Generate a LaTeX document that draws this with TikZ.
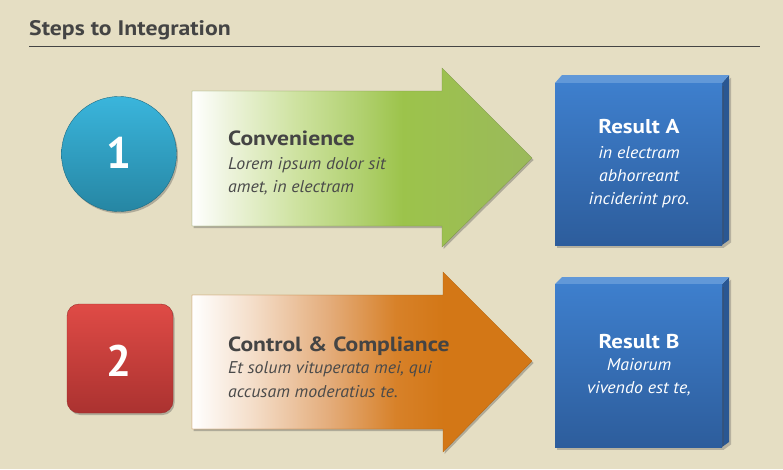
\documentclass[tikz,border=0pt]{standalone}
\usepackage{fontspec}
\setmainfont{PT Sans}
\newfontfamily\boldwide[FakeStretch=1.15]{PT Sans Bold}
\newfontfamily\titlewide[FakeStretch=1.13]{PT Sans Bold}
\newfontfamily\itwide[FakeStretch=1.05]{PT Sans Italic}
\usetikzlibrary{shadows}
\definecolor{bg}{HTML}{E5DEC3}
\definecolor{ink}{HTML}{444444}
\definecolor{itink}{HTML}{4A4A4A}
\definecolor{g1}{HTML}{EEF4DE}
\definecolor{g2}{HTML}{CFE3A2}
\definecolor{g3}{HTML}{B0D06E}
\definecolor{g4}{HTML}{9CC34B}
\definecolor{g5}{HTML}{9BB95B}
\definecolor{o1}{HTML}{F4DDC8}
\definecolor{o2}{HTML}{E4AD7C}
\definecolor{o3}{HTML}{D78129}
\definecolor{o4}{HTML}{D37716}
\definecolor{cyantop}{HTML}{3AB5DC}
\definecolor{cyanbot}{HTML}{2686A3}
\definecolor{redtop}{HTML}{DF4B46}
\definecolor{redbot}{HTML}{AB3230}
\definecolor{bluetop}{HTML}{3E7FCD}
\definecolor{bluebot}{HTML}{2D5D9C}
\definecolor{bluetopface}{HTML}{6198D8}
\definecolor{bluesideface}{HTML}{2A5792}
\pgfdeclarehorizontalshading{greenfade}{100bp}{color(0bp)=(white); color(25bp)=(white); color(30bp)=(g1); color(40bp)=(g2); color(50bp)=(g3); color(56bp)=(g4); color(75bp)=(g5); color(100bp)=(g5)}
\pgfdeclarehorizontalshading{orangefade}{100bp}{color(0bp)=(white); color(25bp)=(white); color(34bp)=(o1); color(45bp)=(o2); color(55bp)=(o3); color(62bp)=(o4); color(100bp)=(o4)}
\tikzset{
  shad/.style={drop shadow={shadow xshift=1.5pt, shadow yshift=-2pt, opacity=0.35, fill=black!70}},
  boxshad/.style={drop shadow={shadow xshift=2pt, shadow yshift=-2.5pt, opacity=0.3, fill=black!70}},
  headtext/.style={anchor=base west, inner sep=0pt, text=ink, font=\boldwide\fontsize{20.5}{24}\selectfont},
  bodytext/.style={anchor=base west, inner sep=0pt, text=itink, font=\itwide\fontsize{17}{22}\selectfont},
  reshead/.style={anchor=base, inner sep=0pt, text=white, font=\boldwide\fontsize{20}{24}\selectfont},
  resbody/.style={anchor=base, inner sep=0pt, text=white, font=\itwide\fontsize{17}{22}\selectfont},
  numtext/.style={inner sep=0pt, text=white, font=\bfseries\fontsize{44}{48}\selectfont},
}
\begin{document}
\begin{tikzpicture}[x=1pt,y=-1pt]
\fill[bg] (0,0) rectangle (783,469);
\useasboundingbox (0,0) rectangle (783,469);
% title
\node[anchor=base west, inner sep=0pt, text=ink, font=\titlewide\fontsize{21}{24}\selectfont] (title) at (29,35) {Steps to Integration};
\draw[ink, line width=1pt] (29,46) -- (760,46);
% step 1 circle
\shade[top color=cyantop, bottom color=cyanbot, draw=cyanbot!80!black, line width=0.4pt, shad] (119,154) circle (57.5);
\node[numtext] (n1) at (119,153) {1};
% step 2 square
\shade[top color=redtop, bottom color=redbot, draw=redbot!90!black, line width=0.4pt, rounded corners=12pt, shad] (67,304) rectangle (173,413);
\node[numtext] (n2) at (119,361) {2};
% arrow 1
\shade[shading=greenfade, draw=g5!80!black, line width=0.3pt, shad]
  (192,91) -- (442,91) -- (442,68) -- (532,158) -- (442,247) -- (442,226) -- (192,226) -- cycle;
\node[headtext] (h1) at (228,145) {Convenience};
\node[bodytext] (b1a) at (228,169) {Lorem ipsum dolor sit};
\node[bodytext] (b1b) at (228,192) {amet, in electram};
% arrow 2
\shade[shading=orangefade, draw=o4!85!black, line width=0.3pt, shad]
  (192,295) -- (443,295) -- (443,272) -- (532,361) -- (443,452) -- (443,429) -- (192,429) -- cycle;
\node[headtext] (h2) at (228,351) {Control \& Compliance};
\node[bodytext] (b2a) at (228,373) {Et solum vituperata mei, qui};
\node[bodytext] (b2b) at (228,397) {accusam moderatius te.};
% result A box
\fill[bluesideface, boxshad] (722,83) -- (729,75) -- (729,240) -- (722,245) -- cycle;
\fill[bluetopface] (555,83) -- (562,75) -- (729,75) -- (722,83) -- cycle;
\shade[top color=bluetop, bottom color=bluebot, boxshad] (555,83) rectangle (722,245);
\node[reshead] (ra) at (639,133) {Result A};
\node[resbody] (ra1) at (639,158) {in electram};
\node[resbody] (ra2) at (639,181) {abhorreant};
\node[resbody] (ra3) at (639,204) {inciderint pro.};
% result B box
\fill[bluesideface, boxshad] (722,284) -- (729,277) -- (729,442) -- (722,447) -- cycle;
\fill[bluetopface] (555,284) -- (562,277) -- (729,277) -- (722,284) -- cycle;
\shade[top color=bluetop, bottom color=bluebot, boxshad] (555,284) rectangle (722,447);
\node[reshead] (rb) at (639,348) {Result B};
\node[resbody] (rb1) at (639,370) {Maiorum};
\node[resbody] (rb2) at (639,393) {vivendo est te,};
\end{tikzpicture}
\end{document}
